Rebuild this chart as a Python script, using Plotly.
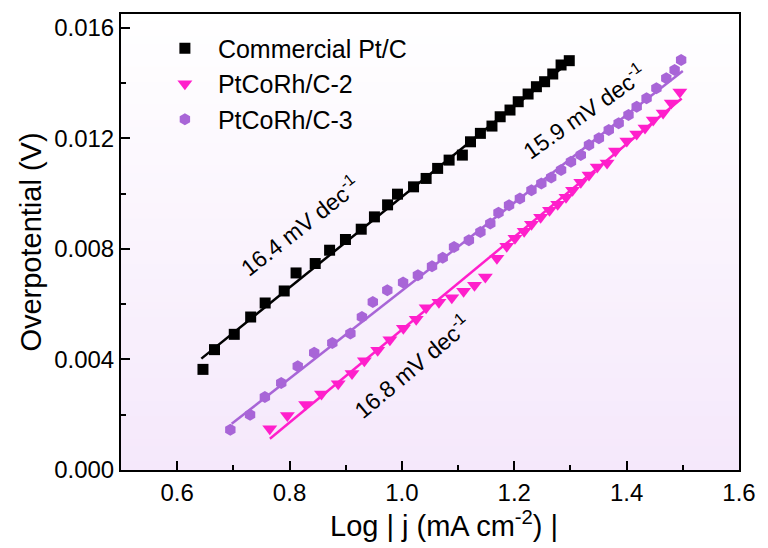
import plotly.graph_objects as go

# ---------------- data ----------------
ptc_x = [0.6459, 0.6664, 0.7016, 0.7308, 0.7566, 0.7905, 0.8116, 0.8457, 0.8713, 0.8995,
         0.9276, 0.9511, 0.9745, 0.9921, 1.0207, 1.0431, 1.0636, 1.0840, 1.1076, 1.1221,
         1.1397, 1.1603, 1.1749, 1.1924, 1.2070, 1.2246, 1.2394, 1.2540, 1.2685, 1.2833, 1.2979]
ptc_y = [0.003641, 0.004355, 0.004909, 0.005536, 0.006043, 0.006478, 0.007130, 0.007471, 0.007953, 0.008340,
         0.008713, 0.009159, 0.009594, 0.009981, 0.010246, 0.010550, 0.010913, 0.011213, 0.011394, 0.011876,
         0.012181, 0.012445, 0.012782, 0.013025, 0.013326, 0.013604, 0.013869, 0.014050, 0.014329, 0.014655, 0.014811]

c2_x = [0.7648, 0.7961, 0.8286, 0.8568, 0.8866, 0.9112, 0.9332, 0.9569, 0.9786, 1.0026,
        1.0255, 1.0431, 1.0659, 1.0888, 1.1098, 1.1292, 1.1485, 1.1691, 1.1866, 1.2012,
        1.2176, 1.2306, 1.2469, 1.2627, 1.2773, 1.2921, 1.3037, 1.3184, 1.3330, 1.3476,
        1.3652, 1.3800, 1.4003, 1.4179, 1.4327, 1.4473, 1.4649, 1.4794, 1.4947]
c2_y = [0.001493, 0.001975, 0.002373, 0.002753, 0.003123, 0.003496, 0.003949, 0.004330, 0.004717, 0.005127,
        0.005453, 0.005869, 0.006069, 0.006232, 0.006467, 0.006684, 0.006985, 0.007662, 0.008097, 0.008387,
        0.008641, 0.008894, 0.009148, 0.009402, 0.009619, 0.009873, 0.010126, 0.010416, 0.010670, 0.010960,
        0.011105, 0.011539, 0.011902, 0.012155, 0.012372, 0.012663, 0.012916, 0.013278, 0.013677]

c3_x = [0.6946, 0.7297, 0.7561, 0.7852, 0.8146, 0.8439, 0.8761, 0.9083, 0.9288, 0.9482,
        0.9740, 1.0021, 1.0285, 1.0536, 1.0726, 1.0928, 1.1192, 1.1397, 1.1573, 1.1719,
        1.1907, 1.2100, 1.2306, 1.2482, 1.2657, 1.2833, 1.3009, 1.3184, 1.3330, 1.3506,
        1.3682, 1.3858, 1.4033, 1.4179, 1.4355, 1.4530, 1.4706, 1.4854, 1.4970]
c3_y = [0.001456, 0.002000, 0.002638, 0.003145, 0.003750, 0.004246, 0.004594, 0.004935, 0.005536, 0.006079,
        0.006503, 0.006782, 0.007047, 0.007373, 0.007681, 0.008072, 0.008315, 0.008616, 0.008920, 0.009304,
        0.009583, 0.009826, 0.010126, 0.010369, 0.010587, 0.010851, 0.011152, 0.011394, 0.011757, 0.012000,
        0.012300, 0.012543, 0.012844, 0.013144, 0.013449, 0.013811, 0.014173, 0.014474, 0.014836]

# Tafel fit lines (end points)
fit_ptc_x = [0.643, 1.300]
fit_ptc_y = [0.00403, 0.01480]
fit_c2_x = [0.765, 1.498]
fit_c2_y = [0.00113, 0.01344]
fit_c3_x = [0.697, 1.500]
fit_c3_y = [0.00167, 0.01444]

names = ["Commercial Pt/C", "PtCoRh/C-2", "PtCoRh/C-3"]
slope_labels = ["16.4 mV dec<sup>-1</sup>", "16.8 mV dec<sup>-1</sup>", "15.9 mV dec<sup>-1</sup>"]
label_pos_x = [0.8190, 1.0180, 1.3240]
label_pos_y = [0.008850, 0.003760, 0.012990]
label_angle = [-38, -40, -35]

x_ticks = [0.6, 0.8, 1.0, 1.2, 1.4, 1.6]
y_ticks = [0.000, 0.004, 0.008, 0.012, 0.016]
x_title = "Log | j (mA cm<sup>-2</sup>) |"
y_title = "Overpotential (V)"

# ---------------- style ----------------
FONT = "Liberation Sans, Arial, sans-serif"
BLACK = "#000000"
PINK = "#FF1FCB"
PURPLE = "#A865D7"

fig = go.Figure()

# gradient background of the plot area
n = 60
top = (255, 255, 255)
bot = (245, 232, 251)
for i in range(n):
    t = (i + 0.5) / n
    c = tuple(int(round(top[k] + (bot[k] - top[k]) * t)) for k in range(3))
    fig.add_shape(type="rect", xref="paper", yref="paper",
                  x0=0, x1=1, y0=1 - (i + 1) / n, y1=1 - i / n + 0.002,
                  fillcolor="rgb(%d,%d,%d)" % c, line=dict(width=0), layer="below")

# fit lines
for fx, fy, col in [(fit_ptc_x, fit_ptc_y, BLACK), (fit_c2_x, fit_c2_y, PINK), (fit_c3_x, fit_c3_y, PURPLE)]:
    fig.add_trace(go.Scatter(x=fx, y=fy, mode="lines", line=dict(color=col, width=2.5),
                             showlegend=False, hoverinfo="skip"))

fig.add_trace(go.Scatter(x=ptc_x, y=ptc_y, mode="markers", name=names[0],
                         marker=dict(symbol="square", size=11, color=BLACK)))
fig.add_trace(go.Scatter(x=c2_x, y=c2_y, mode="markers", name=names[1],
                         marker=dict(symbol="triangle-down", size=13, color=PINK)))
fig.add_trace(go.Scatter(x=c3_x, y=c3_y, mode="markers", name=names[2],
                         marker=dict(symbol="hexagon", size=12, color=PURPLE)))

for txt, ax_, ay_, ang in zip(slope_labels, label_pos_x, label_pos_y, label_angle):
    fig.add_annotation(x=ax_, y=ay_, xref="x", yref="y", text=txt, showarrow=False,
                       textangle=ang, font=dict(family=FONT, size=23, color="black"))

# x axis title (placed slightly right of centre, as in the reference)
fig.add_annotation(x=0.522, y=-0.118, xref="paper", yref="paper", text=x_title,
                   showarrow=False, xanchor="center", yanchor="middle",
                   font=dict(family=FONT, size=29, color="black"))

axis_common = dict(showline=True, linewidth=2, linecolor="black", mirror=True,
                   ticks="inside", tickwidth=2, tickcolor="black", ticklen=9,
                   showgrid=False, zeroline=False,
                   tickfont=dict(family=FONT, size=24, color="black"))

fig.update_xaxes(range=[0.5, 1.6], tickvals=x_ticks, tickformat=".1f",
                 minor=dict(dtick=0.1, tick0=0.5, ticks="inside", ticklen=5, tickwidth=2, tickcolor="black"),
                 **axis_common)
fig.update_yaxes(range=[0, 0.0165], tickvals=y_ticks, tickformat=".3f",
                 minor=dict(dtick=0.002, tick0=0, ticks="inside", ticklen=5, tickwidth=2, tickcolor="black"),
                 title=dict(text=y_title, font=dict(family=FONT, size=29, color="black"),
                            standoff=4),
                 **axis_common)

fig.update_layout(
    width=768, height=548,
    margin=dict(l=121, r=21, t=14, b=78),
    paper_bgcolor="white", plot_bgcolor="white",
    showlegend=True,
    legend=dict(x=0.050, y=0.975, xanchor="left", yanchor="top",
                bgcolor="rgba(0,0,0,0)", borderwidth=0,
                font=dict(family=FONT, size=25, color="black"),
                tracegroupgap=0, itemwidth=56),
)

fig.write_html("out.html")
